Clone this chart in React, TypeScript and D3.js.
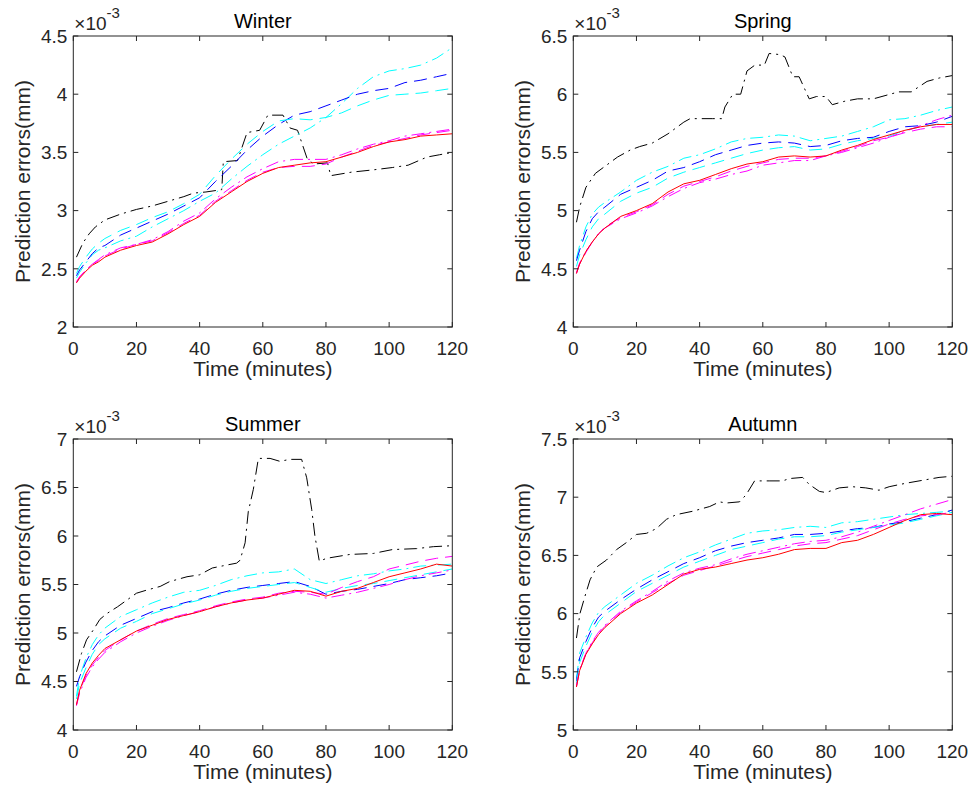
import React from "react";
import * as d3 from "d3";

// shared sampling grid (minutes) for the smooth series
const minutes = [1, 2, 4, 6, 8, 10, 15, 20, 25, 30, 35, 40, 45, 50, 55, 60, 65, 70, 75, 80, 85, 90, 95, 100, 105, 110, 115, 120];
const xTicks = [0, 20, 40, 60, 80, 100, 120];

// Winter
const winterBlackT = [1, 3, 5, 7, 10, 15, 20, 25, 30, 35, 38, 42, 47, 47.5, 52, 55, 59, 61.6, 66.4, 68.6, 71, 74, 76, 80.5, 81.5, 88, 95, 101, 106, 112, 116, 120];
const winterBlack = [2.6, 2.72, 2.8, 2.86, 2.92, 2.97, 3.01, 3.04, 3.08, 3.12, 3.15, 3.16, 3.18, 3.42, 3.43, 3.67, 3.69, 3.82, 3.82, 3.71, 3.69, 3.45, 3.4, 3.41, 3.3, 3.33, 3.35, 3.37, 3.39, 3.46, 3.48, 3.5];
const winterCyanDash = [2.46, 2.52, 2.6, 2.67, 2.72, 2.76, 2.83, 2.88, 2.94, 2.99, 3.06, 3.14, 3.3, 3.44, 3.57, 3.68, 3.77, 3.79, 3.78, 3.8, 3.84, 3.9, 3.95, 3.99, 4.0, 4.01, 4.03, 4.05];
const winterCyanDot = [2.42, 2.47, 2.55, 2.62, 2.66, 2.68, 2.74, 2.78, 2.86, 2.93, 3.0, 3.08, 3.15, 3.27, 3.38, 3.48, 3.57, 3.64, 3.71, 3.8, 3.92, 4.05, 4.15, 4.2, 4.22, 4.25, 4.31, 4.4];
const winterBlue = [2.44, 2.49, 2.56, 2.63, 2.68, 2.7, 2.79, 2.85, 2.91, 2.97, 3.04, 3.11, 3.25, 3.38, 3.52, 3.64, 3.74, 3.82, 3.85, 3.9, 3.95, 4.0, 4.03, 4.05, 4.1, 4.12, 4.15, 4.18];
const winterMagentaDot = [2.39, 2.43, 2.49, 2.54, 2.58, 2.62, 2.68, 2.71, 2.75, 2.82, 2.91, 2.98, 3.1, 3.2, 3.29, 3.36, 3.42, 3.44, 3.44, 3.44, 3.48, 3.53, 3.57, 3.6, 3.64, 3.66, 3.68, 3.7];
const winterMagentaDash = [2.38, 2.43, 2.49, 2.54, 2.57, 2.61, 2.67, 2.71, 2.74, 2.81, 2.89, 2.96, 3.08, 3.17, 3.26, 3.33, 3.37, 3.38, 3.38, 3.4, 3.46, 3.51, 3.56, 3.59, 3.62, 3.65, 3.67, 3.69];
const winterRed = [2.38, 2.42, 2.48, 2.53, 2.56, 2.6, 2.66, 2.7, 2.73, 2.8, 2.88, 2.95, 3.07, 3.16, 3.25, 3.32, 3.37, 3.39, 3.41, 3.42, 3.46, 3.5, 3.55, 3.59, 3.61, 3.64, 3.65, 3.66];

// Spring
const springBlackT = [1, 2, 4, 7, 10, 14, 18, 21, 25, 30, 35, 37, 40, 44, 47, 48, 50.5, 53, 55, 57.5, 60.5, 62, 65.5, 67, 69.5, 71.5, 74.7, 77, 80, 82, 86, 90, 95, 99, 103, 107, 112, 116, 120];
const springBlack = [4.9, 5.03, 5.2, 5.32, 5.38, 5.46, 5.52, 5.55, 5.58, 5.66, 5.76, 5.79, 5.79, 5.79, 5.79, 5.89, 6.0, 6.0, 6.2, 6.25, 6.25, 6.35, 6.34, 6.32, 6.15, 6.15, 5.96, 5.98, 5.98, 5.91, 5.94, 5.96, 5.96, 5.99, 6.02, 6.02, 6.11, 6.14, 6.16];
const springCyanDot = [4.59, 4.7, 4.86, 4.97, 5.03, 5.07, 5.16, 5.26, 5.33, 5.38, 5.45, 5.48, 5.53, 5.59, 5.62, 5.63, 5.65, 5.64, 5.6, 5.62, 5.64, 5.68, 5.72, 5.78, 5.79, 5.82, 5.86, 5.89];
const springBlue = [4.57, 4.66, 4.82, 4.93, 4.99, 5.03, 5.14, 5.2, 5.26, 5.34, 5.37, 5.42, 5.48, 5.52, 5.56, 5.58, 5.59, 5.58, 5.55, 5.56, 5.6, 5.62, 5.63, 5.68, 5.72, 5.73, 5.76, 5.81];
const springCyanDash = [4.52, 4.62, 4.75, 4.86, 4.93, 4.97, 5.08, 5.15, 5.2, 5.28, 5.33, 5.37, 5.41, 5.45, 5.49, 5.52, 5.54, 5.55, 5.52, 5.53, 5.57, 5.6, 5.62, 5.64, 5.69, 5.72, 5.74, 5.76];
const springMagentaDot = [4.47, 4.55, 4.65, 4.73, 4.8, 4.85, 4.93, 4.98, 5.04, 5.12, 5.19, 5.24, 5.27, 5.31, 5.34, 5.39, 5.41, 5.43, 5.43, 5.47, 5.5, 5.54, 5.58, 5.63, 5.68, 5.73, 5.78, 5.82];
const springMagentaDash = [4.46, 4.54, 4.64, 4.73, 4.8, 4.86, 4.94, 4.99, 5.05, 5.14, 5.21, 5.25, 5.29, 5.34, 5.38, 5.41, 5.44, 5.45, 5.45, 5.47, 5.51, 5.55, 5.6, 5.63, 5.67, 5.7, 5.72, 5.72];
const springRed = [4.46, 4.54, 4.65, 4.73, 4.8, 4.85, 4.95, 5.0, 5.06, 5.16, 5.23, 5.26, 5.31, 5.36, 5.4, 5.42, 5.46, 5.47, 5.46, 5.47, 5.52, 5.56, 5.61, 5.65, 5.69, 5.72, 5.74, 5.74];

// Summer
const summerBlackT = [1, 2.6, 4.2, 6.3, 8.4, 10.6, 14, 17, 20, 23, 27.5, 30.5, 36, 40, 44, 48.5, 51.7, 52.8, 54.4, 55.4, 57, 58.6, 62.3, 65.4, 68.6, 72.3, 73.9, 75.5, 76.5, 77.9, 80.2, 87.6, 95, 101, 108.7, 114, 120];
const summerBlack = [4.6, 4.79, 4.93, 5.03, 5.14, 5.2, 5.27, 5.34, 5.41, 5.44, 5.48, 5.53, 5.58, 5.6, 5.67, 5.7, 5.72, 5.75, 5.93, 6.25, 6.48, 6.8, 6.8, 6.77, 6.79, 6.79, 6.6, 6.27, 6.0, 5.74, 5.77, 5.81, 5.82, 5.86, 5.87, 5.89, 5.9];
const summerCyanDot = [4.35, 4.55, 4.74, 4.88, 4.98, 5.05, 5.17, 5.24, 5.31, 5.37, 5.42, 5.44, 5.49, 5.55, 5.59, 5.62, 5.63, 5.66, 5.55, 5.51, 5.55, 5.59, 5.61, 5.64, 5.66, 5.69, 5.7, 5.71];
const summerBlue = [4.45, 4.55, 4.7, 4.82, 4.91, 4.97, 5.08, 5.15, 5.22, 5.26, 5.31, 5.35, 5.4, 5.44, 5.47, 5.49, 5.51, 5.53, 5.48, 5.4, 5.43, 5.45, 5.48, 5.51, 5.55, 5.57, 5.59, 5.62];
const summerCyanDash = [4.32, 4.48, 4.64, 4.78, 4.88, 4.94, 5.05, 5.12, 5.2, 5.25, 5.3, 5.34, 5.39, 5.43, 5.46, 5.48, 5.5, 5.52, 5.47, 5.42, 5.46, 5.49, 5.51, 5.54, 5.57, 5.6, 5.63, 5.66];
const summerMagentaDot = [4.25, 4.38, 4.54, 4.65, 4.73, 4.8, 4.91, 5.0, 5.07, 5.13, 5.18, 5.22, 5.27, 5.31, 5.34, 5.36, 5.39, 5.42, 5.4, 5.36, 5.39, 5.42, 5.46, 5.5, 5.55, 5.59, 5.62, 5.65];
const summerMagentaDash = [4.26, 4.4, 4.56, 4.67, 4.75, 4.82, 4.93, 5.02, 5.09, 5.15, 5.19, 5.23, 5.28, 5.32, 5.35, 5.37, 5.41, 5.43, 5.42, 5.4, 5.47, 5.53, 5.58, 5.66, 5.7, 5.74, 5.77, 5.79];
const summerRed = [4.26, 4.41, 4.58, 4.69, 4.77, 4.84, 4.93, 5.02, 5.08, 5.14, 5.18, 5.22, 5.27, 5.31, 5.34, 5.36, 5.4, 5.44, 5.43, 5.38, 5.43, 5.46, 5.52, 5.58, 5.62, 5.66, 5.71, 5.69];

// Autumn
const autumnBlackT = [1, 2.1, 3.7, 5.3, 7.4, 10.5, 13.7, 16.8, 20, 23.2, 26.3, 29.5, 32.6, 37.9, 43.2, 46.3, 48.4, 52.6, 54.7, 57.4, 62, 66.3, 68.4, 72.6, 74.7, 77.9, 80, 84.2, 88.4, 92.6, 96.8, 100, 105.3, 111.6, 115.8, 120];
const autumnBlack = [5.79, 6.0, 6.15, 6.29, 6.4, 6.46, 6.55, 6.61, 6.68, 6.69, 6.73, 6.81, 6.85, 6.88, 6.92, 6.96, 6.95, 6.96, 7.02, 7.14, 7.14, 7.14, 7.16, 7.17, 7.11, 7.05, 7.04, 7.08, 7.09, 7.08, 7.06, 7.09, 7.12, 7.15, 7.17, 7.18];
const autumnCyanDot = [5.44, 5.66, 5.8, 5.92, 6.01, 6.06, 6.16, 6.26, 6.33, 6.41, 6.48, 6.53, 6.59, 6.64, 6.69, 6.71, 6.72, 6.74, 6.75, 6.74, 6.78, 6.79, 6.81, 6.83, 6.85, 6.86, 6.87, 6.88];
const autumnBlue = [5.42, 5.62, 5.76, 5.88, 5.97, 6.02, 6.12, 6.21, 6.29, 6.36, 6.43, 6.48, 6.54, 6.58, 6.61, 6.63, 6.65, 6.68, 6.68, 6.69, 6.71, 6.73, 6.74, 6.77, 6.79, 6.82, 6.85, 6.89];
const autumnCyanDash = [5.4, 5.58, 5.72, 5.84, 5.93, 5.99, 6.09, 6.19, 6.26, 6.33, 6.4, 6.45, 6.5, 6.55, 6.58, 6.61, 6.64, 6.66, 6.66, 6.67, 6.7, 6.72, 6.74, 6.76, 6.78, 6.81, 6.84, 6.87];
const autumnMagentaDot = [5.38, 5.52, 5.66, 5.76, 5.84, 5.9, 6.02, 6.11, 6.19, 6.28, 6.35, 6.39, 6.42, 6.47, 6.51, 6.54, 6.57, 6.6, 6.62, 6.63, 6.66, 6.7, 6.75, 6.8, 6.85, 6.9, 6.94, 6.98];
const autumnMagentaDash = [5.37, 5.51, 5.66, 5.75, 5.83, 5.89, 6.01, 6.1, 6.18, 6.26, 6.33, 6.37, 6.41, 6.45, 6.49, 6.52, 6.55, 6.58, 6.6, 6.61, 6.64, 6.67, 6.72, 6.77, 6.81, 6.84, 6.85, 6.87];
const autumnRed = [5.37, 5.51, 5.65, 5.74, 5.82, 5.88, 6.0, 6.09, 6.16, 6.25, 6.34, 6.38, 6.4, 6.43, 6.46, 6.48, 6.51, 6.55, 6.56, 6.56, 6.61, 6.63, 6.68, 6.74, 6.8, 6.85, 6.86, 6.85];

const winterTicks = [2, 2.5, 3, 3.5, 4, 4.5];
const springTicks = [4, 4.5, 5, 5.5, 6, 6.5];
const summerTicks = [4, 4.5, 5, 5.5, 6, 6.5, 7];
const autumnTicks = [5, 5.5, 6, 6.5, 7, 7.5];

const DASH = "13,7";
const DASHDOT = "13,5,2,5";
const FONT = "'Liberation Sans', Arial, Helvetica, sans-serif";
const AX = "#262626";

type Series = { t: number[]; v: number[]; color: string; dash: string | null };

const mk = (black: [number[], number[]], cd: number[], b: number[], cs: number[], md: number[], ms: number[], r: number[]): Series[] => [
  { t: black[0], v: black[1], color: "#000000", dash: DASHDOT },
  { t: minutes, v: cd, color: "#00ffff", dash: DASHDOT },
  { t: minutes, v: b, color: "#0000ff", dash: DASH },
  { t: minutes, v: cs, color: "#00ffff", dash: DASH },
  { t: minutes, v: md, color: "#ff00ff", dash: DASHDOT },
  { t: minutes, v: ms, color: "#ff00ff", dash: DASH },
  { t: minutes, v: r, color: "#ff0000", dash: null },
];

const panels = [
  { title: "Winter", ticks: winterTicks, left: 73.3, top: 36, series: mk([winterBlackT, winterBlack], winterCyanDot, winterBlue, winterCyanDash, winterMagentaDot, winterMagentaDash, winterRed) },
  { title: "Spring", ticks: springTicks, left: 573.3, top: 36, series: mk([springBlackT, springBlack], springCyanDot, springBlue, springCyanDash, springMagentaDot, springMagentaDash, springRed) },
  { title: "Summer", ticks: summerTicks, left: 73.3, top: 439, series: mk([summerBlackT, summerBlack], summerCyanDot, summerBlue, summerCyanDash, summerMagentaDot, summerMagentaDash, summerRed) },
  { title: "Autumn", ticks: autumnTicks, left: 573.3, top: 439, series: mk([autumnBlackT, autumnBlack], autumnCyanDot, autumnBlue, autumnCyanDash, autumnMagentaDot, autumnMagentaDash, autumnRed) },
];

const W = 379;
const H = 291;
const TICK = 5;

function Panel({ p }: { p: (typeof panels)[number] }) {
  const x = d3.scaleLinear().domain([0, 120]).range([p.left, p.left + W]);
  const y = d3.scaleLinear().domain([p.ticks[0], p.ticks[p.ticks.length - 1]]).range([p.top + H, p.top]);
  const bottom = p.top + H;
  const right = p.left + W;
  const line = (s: Series) =>
    d3.line<number>().x((_, i) => x(s.t[i])).y((d) => y(d))(s.v) || "";

  return (
    <g>
      <defs>
        <clipPath id={"clip-" + p.title}>
          <rect x={p.left} y={p.top} width={W} height={H} />
        </clipPath>
      </defs>
      <rect x={p.left} y={p.top} width={W} height={H} fill="#fff" />
      <g clipPath={`url(#clip-${p.title})`}>
        {p.series.map((s, i) => (
          <path key={i} d={line(s)} fill="none" stroke={s.color} strokeWidth={1}
            strokeDasharray={s.dash || undefined} strokeLinejoin="round" />
        ))}
      </g>
      <rect x={p.left} y={p.top} width={W} height={H} fill="none" stroke={AX} strokeWidth={1} />
      {xTicks.map((t) => (
        <g key={"x" + t}>
          <line x1={x(t)} x2={x(t)} y1={bottom} y2={bottom - TICK} stroke={AX} />
          <line x1={x(t)} x2={x(t)} y1={p.top} y2={p.top + TICK} stroke={AX} />
          <text x={x(t)} y={bottom + 28} textAnchor="middle" fontSize={19} fill={AX} fontFamily={FONT}>{t}</text>
        </g>
      ))}
      {p.ticks.map((t) => (
        <g key={"y" + t}>
          <line x1={p.left} x2={p.left + TICK} y1={y(t)} y2={y(t)} stroke={AX} />
          <line x1={right} x2={right - TICK} y1={y(t)} y2={y(t)} stroke={AX} />
          <text x={p.left - 6} y={y(t)} dy="0.36em" textAnchor="end" fontSize={19} fill={AX} fontFamily={FONT}>{t}</text>
        </g>
      ))}
      <text x={p.left + W / 2} y={p.top - 8} textAnchor="middle" fontSize={20} fill="#000" fontFamily={FONT}>{p.title}</text>
      <text x={p.left + W / 2} y={bottom + 49} textAnchor="middle" fontSize={21} fill={AX} fontFamily={FONT}>Time (minutes)</text>
      <text transform={`translate(${p.left - 43},${p.top + H / 2}) rotate(-90)`} textAnchor="middle" fontSize={21} fill={AX} fontFamily={FONT}>Prediction errors(mm)</text>
      <text x={p.left + 1} y={p.top - 6} fontSize={19} fill={AX} fontFamily={FONT}>
        ×10<tspan dy={-12} fontSize={15}>-3</tspan>
      </text>
    </g>
  );
}

export default function App() {
  return (
    <svg width={974} height={789} style={{ position: "absolute", left: 0, top: 0, background: "#fff" }}>
      <rect width={974} height={789} fill="#fff" />
      {panels.map((p) => (
        <Panel key={p.title} p={p} />
      ))}
    </svg>
  );
}
